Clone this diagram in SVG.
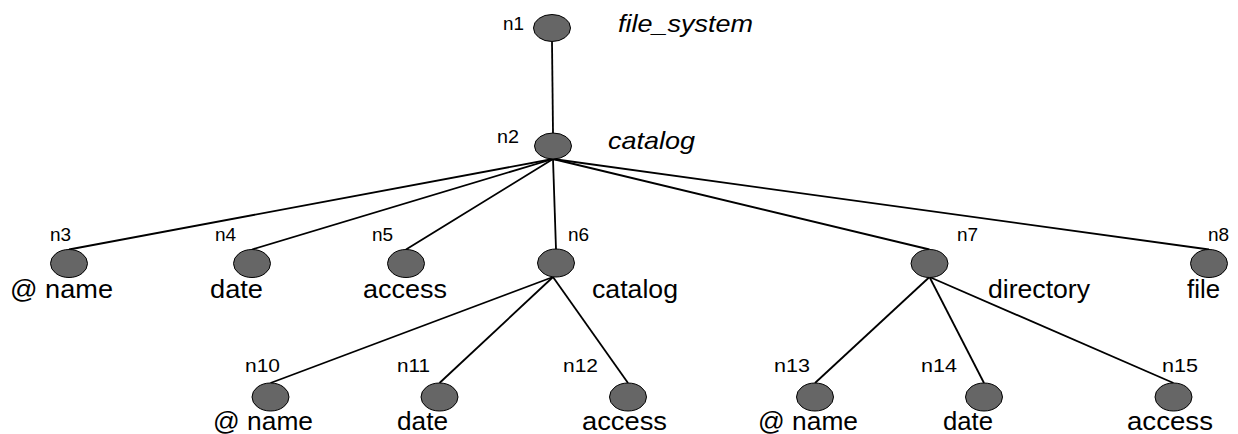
<svg xmlns="http://www.w3.org/2000/svg" width="1238" height="434" viewBox="0 0 1238 434">
<style>
.nd{fill:#666666;stroke:#000;stroke-width:1}
.e{stroke:#000;stroke-width:1.8;fill:none}
.id{font-family:"Liberation Sans",Arial,sans-serif;font-size:19px;fill:#000}
.lb{font-family:"Liberation Sans",Arial,sans-serif;font-size:26px;fill:#000}
.it{font-family:"Liberation Sans",Arial,sans-serif;font-size:24px;font-style:italic;fill:#000}
</style>
<rect width="1238" height="434" fill="#fff"/>
<g id="connectors">
<line class="e" x1="552" y1="41.5" x2="553" y2="133"/>
<line class="e" x1="553" y1="159" x2="69" y2="249.5"/>
<line class="e" x1="553" y1="159" x2="252" y2="249.5"/>
<line class="e" x1="553" y1="159" x2="406" y2="249.5"/>
<line class="e" x1="553" y1="159" x2="556" y2="249.5"/>
<line class="e" x1="553" y1="159" x2="929.5" y2="249.5"/>
<line class="e" x1="553" y1="159" x2="1209" y2="249.5"/>
<line class="e" x1="553" y1="277" x2="270.5" y2="383"/>
<line class="e" x1="553" y1="277" x2="439.5" y2="383"/>
<line class="e" x1="553" y1="277" x2="628" y2="383"/>
<line class="e" x1="929.5" y1="277" x2="815" y2="383"/>
<line class="e" x1="929.5" y1="277" x2="984" y2="383"/>
<line class="e" x1="929.5" y1="277" x2="1173.5" y2="383"/>
</g>
<g id="n1"><ellipse class="nd" cx="552" cy="28" rx="18.5" ry="13.5"/><text class="id" x="503" y="30" textLength="21" lengthAdjust="spacingAndGlyphs">n1</text><text class="it" x="618" y="32" textLength="135" lengthAdjust="spacingAndGlyphs">file_system</text></g>
<g id="n2"><ellipse class="nd" cx="553" cy="146" rx="18.5" ry="13"/><text class="id" x="497" y="143" textLength="22" lengthAdjust="spacingAndGlyphs">n2</text><text class="it" x="608" y="149" textLength="87" lengthAdjust="spacingAndGlyphs">catalog</text></g>
<g id="n3"><ellipse class="nd" cx="69" cy="263.5" rx="18.5" ry="14"/><text class="id" x="50" y="241">n3</text><text class="lb" x="10" y="298" textLength="103" lengthAdjust="spacingAndGlyphs">@ name</text></g>
<g id="n4"><ellipse class="nd" cx="252" cy="263.5" rx="18.5" ry="14"/><text class="id" x="215" y="241">n4</text><text class="lb" x="210" y="298" textLength="53" lengthAdjust="spacingAndGlyphs">date</text></g>
<g id="n5"><ellipse class="nd" cx="406" cy="263.5" rx="18.5" ry="14"/><text class="id" x="372" y="241">n5</text><text class="lb" x="363" y="298" textLength="84" lengthAdjust="spacingAndGlyphs">access</text></g>
<g id="n6"><ellipse class="nd" cx="556" cy="263" rx="18.5" ry="14"/><text class="id" x="568" y="241">n6</text><text class="lb" x="592" y="298" textLength="86" lengthAdjust="spacingAndGlyphs">catalog</text></g>
<g id="n7"><ellipse class="nd" cx="929.5" cy="263.5" rx="18.5" ry="14"/><text class="id" x="957" y="241">n7</text><text class="lb" x="988" y="298" textLength="102" lengthAdjust="spacingAndGlyphs">directory</text></g>
<g id="n8"><ellipse class="nd" cx="1209" cy="263.5" rx="18.5" ry="14"/><text class="id" x="1208" y="241">n8</text><text class="lb" x="1187" y="298" textLength="33" lengthAdjust="spacingAndGlyphs">file</text></g>
<g id="n10"><ellipse class="nd" cx="270.5" cy="397" rx="18.5" ry="14"/><text class="id" x="245" y="372" textLength="35" lengthAdjust="spacingAndGlyphs">n10</text><text class="lb" x="213" y="430" textLength="100" lengthAdjust="spacingAndGlyphs">@ name</text></g>
<g id="n11"><ellipse class="nd" cx="439.5" cy="397" rx="18.5" ry="14"/><text class="id" x="397" y="372" textLength="33" lengthAdjust="spacingAndGlyphs">n11</text><text class="lb" x="397" y="430" textLength="51" lengthAdjust="spacingAndGlyphs">date</text></g>
<g id="n12"><ellipse class="nd" cx="628" cy="397" rx="18.5" ry="14"/><text class="id" x="563" y="372" textLength="35" lengthAdjust="spacingAndGlyphs">n12</text><text class="lb" x="582" y="430" textLength="85" lengthAdjust="spacingAndGlyphs">access</text></g>
<g id="n13"><ellipse class="nd" cx="815" cy="397" rx="18.5" ry="14"/><text class="id" x="774" y="372" textLength="36" lengthAdjust="spacingAndGlyphs">n13</text><text class="lb" x="758" y="430" textLength="100" lengthAdjust="spacingAndGlyphs">@ name</text></g>
<g id="n14"><ellipse class="nd" cx="984" cy="397" rx="18.5" ry="14"/><text class="id" x="921" y="372" textLength="36" lengthAdjust="spacingAndGlyphs">n14</text><text class="lb" x="943" y="430" textLength="50" lengthAdjust="spacingAndGlyphs">date</text></g>
<g id="n15"><ellipse class="nd" cx="1173.5" cy="397" rx="18.5" ry="14"/><text class="id" x="1162" y="372" textLength="36" lengthAdjust="spacingAndGlyphs">n15</text><text class="lb" x="1127" y="430" textLength="86" lengthAdjust="spacingAndGlyphs">access</text></g>
</svg>
